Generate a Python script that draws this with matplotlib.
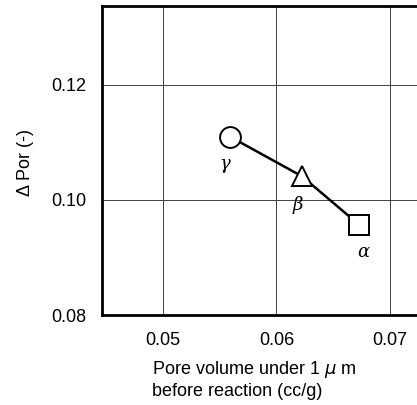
import matplotlib
matplotlib.use("Agg")
import matplotlib.pyplot as plt

# data
pore_volume = [0.0559, 0.06225, 0.06727]   # cc/g
delta_por = [0.1110, 0.1041, 0.0957]
labels = ["γ", "β", "α"]
markers = ["o", "^", "s"]
xticks = [0.05, 0.06, 0.07]
yticks = [0.08, 0.10, 0.12]
ytick_labels = ["0.08", "0.10", "0.12"]
xtick_labels = ["0.05", "0.06", "0.07"]

plt.rcParams['font.family'] = ['Liberation Sans', 'DejaVu Sans']

fig = plt.figure(figsize=(4.17, 4.05), dpi=100)
ax = fig.add_axes([102/417, (405-315)/405, 1 - 102/417, (315-6)/405])

ax.set_xlim(0.04463, 0.07238)
ax.set_ylim(0.08, 0.1337)

ax.set_xticks(xticks)
ax.set_xticklabels(xtick_labels)
ax.set_yticks(yticks)
ax.set_yticklabels(ytick_labels)
ax.tick_params(length=0, labelsize=13)
ax.tick_params(axis='x', pad=12)
ax.tick_params(axis='y', pad=11)
ax.grid(True, color='#404040', lw=0.7)
ax.set_axisbelow(True)

for s in ['left', 'bottom', 'top']:
    ax.spines[s].set_linewidth(2.0)
ax.spines['right'].set_visible(False)

ax.plot(pore_volume, delta_por, color='black', lw=1.8, zorder=3)
offsets = [(-3.6, -20), (-2.9, -21), (2.9, -19.5)]
for x, y, m, lab, off in zip(pore_volume, delta_por, markers, labels, offsets):
    ax.plot([x], [y], marker=m, ms=15, mfc='white', mec='black', mew=1.4,
            ls='none', zorder=4)
    ax.annotate(lab, (x, y), textcoords='offset points', xytext=off,
                ha='center', va='center', fontsize=13, fontstyle='italic',
                family='DejaVu Serif')

fig.text(152/417, 1 - 370/405, "Pore volume under 1 $\\mu$ m", fontsize=13,
         ha='left', va='center')
fig.text(152/417, 1 - 392/405, "before reaction (cc/g)", fontsize=13,
         ha='left', va='center')
fig.text(26/417, 1 - 163/405, "Δ Por (-)", fontsize=13, rotation=90,
         ha='center', va='center')

fig.savefig("out.png", dpi=100)
